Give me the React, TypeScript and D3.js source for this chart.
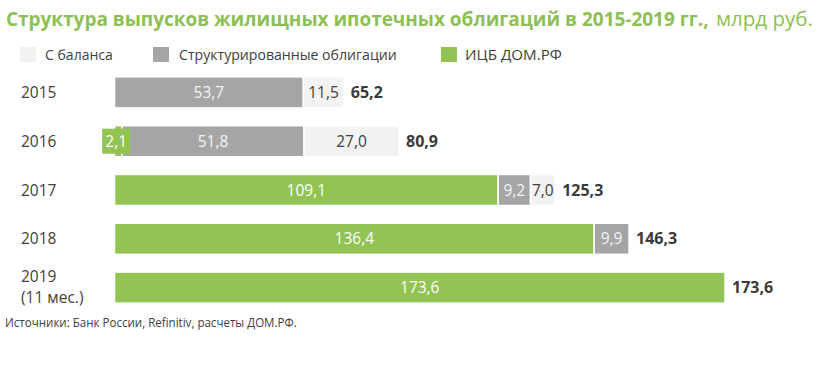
import React, { useLayoutEffect, useRef, useState } from "react";
import * as d3 from "d3";

// values, млрд руб.
const years = ["2015", "2016", "2017", "2018", "2019"];
const yearNotes = ["", "", "", "", "(11 мес.)"];
const mbsDomRf = [0, 2.1, 109.1, 136.4, 173.6];
const structured = [53.7, 51.8, 9.2, 9.9, 0];
const onBalance = [11.5, 27.0, 7.0, 0, 0];
const totals = [65.2, 80.9, 125.3, 146.3, 173.6];

const seriesNames = ["С баланса", "Структурированные облигации", "ИЦБ ДОМ.РФ"];

const GREEN = "#92c353";
const GRAY = "#a5a5a5";
const LIGHT = "#f2f2f2";
const DARK = "#404040";
const FONT = "'Open Sans', sans-serif";

const fmt = (v: number) => v.toFixed(1).replace(".", ",");

// text squeezed horizontally to a given width (the source uses a condensed face)
function FitText({ x, y, width, children, ...rest }: any) {
  const ref = useRef<SVGTextElement>(null);
  const [k, setK] = useState(1);
  useLayoutEffect(() => {
    if (ref.current) {
      const w = ref.current.getComputedTextLength();
      if (w > 0) setK(width / w);
    }
  }, [width, children]);
  return (
    <text ref={ref} transform={`translate(${x},${y}) scale(${k},1)`} fontFamily={FONT} {...rest}>
      {children}
    </text>
  );
}

export default function App() {
  const width = 823;
  const height = 384;

  const x = d3.scaleLinear().domain([0, 173.6]).range([114.5, 725]);
  const y = d3
    .scaleBand<string>()
    .domain(years)
    .range([68, 312])
    .paddingInner(0.364)
    .paddingOuter(0.182);

  // order of stacking from left: ИЦБ, структурированные, с баланса
  const segs = [
    { values: mbsDomRf, fill: GREEN, text: "#ffffff" },
    { values: structured, fill: GRAY, text: "#f4f4f4" },
    { values: onBalance, fill: LIGHT, text: DARK },
  ];

  const legend = [
    { name: seriesNames[0], fill: LIGHT, x: 20, tx: 45, len: 68 },
    { name: seriesNames[1], fill: GRAY, x: 153, tx: 179, len: 218 },
    { name: seriesNames[2], fill: GREEN, x: 441, tx: 465, len: 97 },
  ];

  const bh = y.bandwidth();
  const rows = years.map((yr, i) => {
    let acc = 0;
    const parts = segs
      .map((s, j) => {
        const v = s.values[i];
        const xa = x(acc);
        acc += v;
        const xb = x(acc);
        return { ...s, j, v, xa, xb, w: xb - xa };
      })
      .filter((p) => p.v > 0);
    return { yr, i, y0: y(yr)!, parts };
  });

  return (
    <svg width={width} height={height} style={{ position: "absolute", left: 0, top: 0, background: "#fff" }}>
      <FitText x={6} y={26} width={703} fontSize={20} fontWeight="bold" fill="#8dbf56">
        Структура выпусков жилищных ипотечных облигаций в 2015-2019 гг.,
      </FitText>
      <FitText x={716} y={26} width={97} fontSize={20} fill="#8dbf56">
        млрд руб.
      </FitText>

      {legend.map((l) => (
        <g key={l.name}>
          <rect x={l.x} y={47} width={16} height={15} fill={l.fill} />
          <FitText x={l.tx} y={60} width={l.len} fontSize={15} fill={DARK}>
            {l.name}
          </FitText>
        </g>
      ))}

      {rows.map(({ yr, i, y0 }) =>
        yearNotes[i] ? (
          <g key={"l" + yr}>
            <text x={21} y={y0 + 10} fontFamily={FONT} fontSize={15.5} fill={DARK}>{yr}</text>
            <text x={21} y={y0 + 31} fontFamily={FONT} fontSize={15.5} fill={DARK}>{yearNotes[i]}</text>
          </g>
        ) : (
          <text key={"l" + yr} x={21} y={y0 + bh / 2 + 5.5} fontFamily={FONT} fontSize={15.5} fill={DARK}>{yr}</text>
        )
      )}

      {rows.map(({ yr, y0, parts }) => (
        <g key={"b" + yr}>
          {parts.map((p) => (
            <rect key={p.j} x={p.xa} y={y0} width={p.w} height={bh} fill={p.fill} stroke="#fff" strokeWidth={1.5} />
          ))}
        </g>
      ))}

      {rows.map(({ yr, i, y0, parts }) => {
        const cy = y0 + bh / 2;
        return (
          <g key={"t" + yr}>
            {parts.map((p) => {
              const small = p.w < 20;
              const cx = (p.xa + p.xb) / 2 - (small ? 2 : 0);
              return (
                <g key={p.j}>
                  {small && <rect x={cx - 14} y={y0 + 3} width={28} height={bh - 6} fill={p.fill} />}
                  <text x={cx} y={cy + 5.5} textAnchor="middle" fontFamily={FONT} fontSize={15.5} fill={p.text}>
                    {fmt(p.v)}
                  </text>
                </g>
              );
            })}
            <text x={x(totals[i]) + 7} y={cy + 5.5} fontFamily={FONT} fontSize={16} fontWeight="bold" fill="#3a3a3a">
              {fmt(totals[i])}
            </text>
          </g>
        );
      })}

      <FitText x={5} y={327} width={292} fontSize={12.5} fill={DARK}>
        Источники: Банк России, Refinitiv, расчеты ДОМ.РФ.
      </FitText>
    </svg>
  );
}
